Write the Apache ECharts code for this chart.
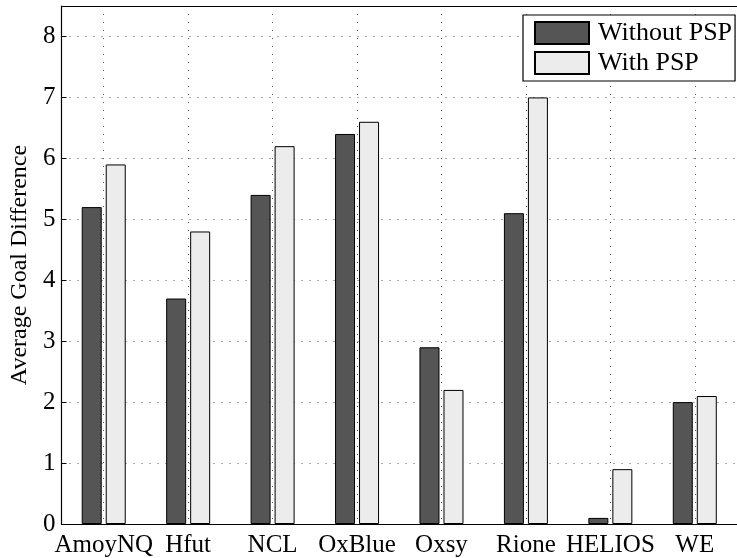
<!DOCTYPE html>
<html>
<head>
<meta charset="utf-8">
<script src="https://cdn.jsdelivr.net/npm/echarts@6/dist/echarts.min.js"></script>
<style>
  html, body { margin: 0; padding: 0; background: #fff; }
  #chart { width: 737px; height: 558px; }
</style>
</head>
<body>
<div id="chart"></div>
<script>
const teams = ['AmoyNQ', 'Hfut', 'NCL', 'OxBlue', 'Oxsy', 'Rione', 'HELIOS', 'WE']
const withoutPSP = [5.2, 3.7, 5.4, 6.4, 2.9, 5.1, 0.1, 2.0]
const withPSP = [5.9, 4.8, 6.2, 6.6, 2.2, 7.0, 0.9, 2.1]
const seriesNames = ['Without PSP', 'With PSP']

const font = 'Liberation Serif, Times New Roman, serif'
const gridLine = { show: true, lineStyle: { color: '#555', type: [1, 7], width: 1 } }

const chart = echarts.init(document.getElementById('chart'))
chart.setOption({
  animation: false,
  backgroundColor: '#fff',
  textStyle: { fontFamily: font, color: '#000' },
  grid: { left: 61.5, top: 6, width: 680, bottom: 32 },
  legend: {
    data: seriesNames,
    orient: 'vertical',
    left: 523,
    top: 15,
    padding: [5, 3, 5, 11],
    itemGap: 4,
    itemWidth: 54,
    itemHeight: 22,
    icon: 'rect',
    backgroundColor: '#fff',
    borderColor: '#000',
    borderWidth: 1.2,
    borderRadius: 0,
    textStyle: { fontFamily: font, fontSize: 26, color: '#000', padding: [0, 0, 0, 4] }
  },
  xAxis: [{
    type: 'category',
    data: teams,
    position: 'bottom',
    axisLine: { lineStyle: { color: '#000', width: 1.2 } },
    axisTick: { inside: true, alignWithLabel: true, length: 5, lineStyle: { color: '#000' } },
    axisLabel: { fontFamily: font, fontSize: 25, color: '#000', margin: 9, interval: 0 },
    splitLine: Object.assign({ alignWithLabel: true }, gridLine)
  }, {
    type: 'category',
    data: teams,
    position: 'top',
    axisLine: { lineStyle: { color: '#000', width: 1.2 } },
    axisTick: { inside: true, alignWithLabel: true, length: 5, lineStyle: { color: '#000' } },
    axisLabel: { show: false },
    splitLine: { show: false }
  }],
  yAxis: {
    type: 'value',
    min: 0,
    max: 8.5,
    interval: 1,
    name: 'Average Goal Difference',
    nameLocation: 'middle',
    nameGap: 29,
    nameTextStyle: { fontFamily: font, fontSize: 24, color: '#000' },
    axisLine: { show: true, lineStyle: { color: '#000', width: 1.2 } },
    axisTick: { show: true, inside: true, length: 5, lineStyle: { color: '#000' } },
    axisLabel: {
      fontFamily: font, fontSize: 25, color: '#000', margin: 6,
      formatter: function (v) { return Number.isInteger(v) ? String(v) : '' }
    },
    splitLine: gridLine
  },
  series: [{
    name: seriesNames[0],
    type: 'bar',
    data: withoutPSP,
    barWidth: 20,
    barGap: '20%',
    itemStyle: { color: '#555555', borderColor: '#000', borderWidth: 1 }
  }, {
    name: seriesNames[1],
    type: 'bar',
    data: withPSP,
    barWidth: 20,
    barGap: '20%',
    itemStyle: { color: '#ececec', borderColor: '#000', borderWidth: 1 }
  }]
})
</script>
</body>
</html>
